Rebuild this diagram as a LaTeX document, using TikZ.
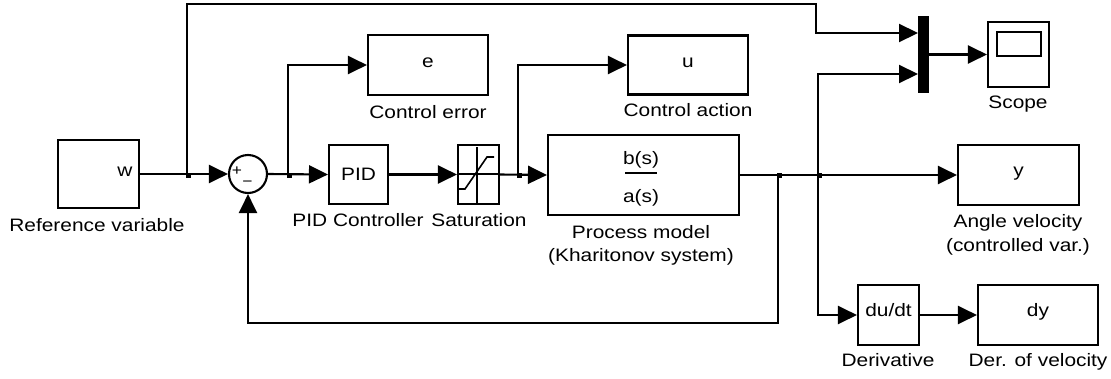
\documentclass[tikz,border=0pt]{standalone}
\usepackage{fontspec}
\setmainfont{Liberation Sans}[FakeStretch=1.16]
\usetikzlibrary{arrows.meta,calc}
\begin{document}
\begin{tikzpicture}[x=1pt,y=-1pt,
  blk/.style={draw, line width=2.1pt, inner sep=0pt, fill=white},
  wire/.style={line width=2.1pt},
  sig/.style={line width=2.1pt, -{Triangle[length=19pt,width=18pt]}},
  lab/.style={anchor=base, font=\fontsize{18}{22}\selectfont, inner sep=0pt},
  txt/.style={anchor=mid, font=\fontsize{18}{22}\selectfont, inner sep=0pt},
  jmark/.style={fill=black}
]
\useasboundingbox (0,0) rectangle (1111,378);

% blocks
\node[blk, minimum width=81pt, minimum height=68pt] (w) at (98.5,174) {};
\node[blk, circle, minimum size=38pt] (sum) at (248,174) {};
\node[blk, minimum width=120pt, minimum height=60pt] (e) at (428,65) {};
\node[blk, minimum width=120pt, minimum height=59pt] (u) at (688,65) {};
\node[blk, minimum width=59pt, minimum height=59pt] (pid) at (358.5,174.5) {};
\node[blk, minimum width=41pt, minimum height=59pt] (sat) at (478.5,174.5) {};
\node[blk, minimum width=191pt, minimum height=80pt] (proc) at (643.5,175) {};
\node[blk, minimum width=121pt, minimum height=60pt] (y) at (1018.5,175) {};
\node[draw, fill=black, line width=1pt, inner sep=0pt, minimum width=10pt, minimum height=76pt] (mux) at (923.5,54.5) {};
\node[blk, minimum width=61pt, minimum height=65pt] (scope) at (1018.5,54.5) {};
\node[blk, minimum width=61pt, minimum height=60pt] (der) at (888.5,315) {};
\node[blk, minimum width=120pt, minimum height=60pt] (dy) at (1038,315) {};

% block contents
\node[txt] (wt) at (125,174) {w};
\node[txt, font=\fontsize{15}{16}\selectfont] (plus) at (237,173) {+};
\node[txt, font=\fontsize{15}{16}\selectfont] (minus) at (247.5,184) {\char"2212};
\node[txt] (et) at (428,65) {e};
\node[txt] (ut) at (688,65) {u};
\node[lab] (pidt) at (358.5,180.5) {PID};
\node[lab] (bs) at (641,164) {b(s)};
\node[lab] (as) at (641,202) {a(s)};
\draw[wire] (625,173) -- (657,173);
\node[txt] (yt) at (1018.5,174) {y};
\node[txt] (dut) at (888.5,314) {du/dt};
\node[txt] (dyt) at (1038,314) {dy};
\draw[wire] (997,32) rectangle (1041,56);
% saturation icon
\draw[line width=1.6pt] (477,147) -- (477,203);
\draw[line width=1.6pt] (459,174) -- (498,174);
\draw[line width=1.6pt] (459,189) -- (465,189) -- (487,157) -- (494,157);

% labels
\node[lab] (lw) at (97,231) {Reference variable};
\node[lab] (le) at (428,118) {Control error};
\node[lab] (lu) at (688,116) {Control action};
\node[lab] (lpid) at (358,226) {PID Controller};
\node[lab] (lsat) at (479,226) {Saturation};
\node[lab] (lp1) at (641,238) {Process model};
\node[lab] (lp2) at (641,261) {(Kharitonov system)};
\node[lab] (ly1) at (1018,227) {Angle velocity};
\node[lab] (ly2) at (1018,251) {(controlled var.)};
\node[lab] (ls) at (1018,108) {Scope};
\node[lab] (ld) at (888,366) {Derivative};
\node[lab] (ldy) at (1038,366) {Der. of velocity};

% junctions
\coordinate (j1) at (187,174);
\coordinate (j2) at (288,174);
\coordinate (j3) at (518,174);
\coordinate (j4) at (778,174);
\coordinate (j5) at (818,174);
\coordinate (c1) at (816,4);
\coordinate (fb) at (778,323);
\coordinate (m1) at (918,33);
\coordinate (m2) at (918,74);

% connectors
\draw[sig] (w.east) -- (sum.west);
\draw[sig] (sum.east) -- (pid.west);
\draw[sig] (pid.east) -- (sat.west);
\draw[sig] (sat.east) -- (proc.west);
\draw[sig] (proc.east) -- (y.west);
\draw[sig] (j1) |- (c1) |- (m1);
\draw[sig] (j2) |- (e.west);
\draw[sig] (j3) |- (u.west);
\draw[sig] (j4) -- (fb) -| (sum.south);
\draw[sig] (j5) |- (m2);
\draw[sig] (j5) |- (der.west);
\draw[sig] (der.east) -- (dy.west);
\draw[sig] (mux.east) -- (scope.west);

\foreach \j in {j1,j2,j3,j4,j5}
  \fill[jmark] (\j) ++(-1,-1) rectangle ++(5,5);
\end{tikzpicture}
\end{document}
